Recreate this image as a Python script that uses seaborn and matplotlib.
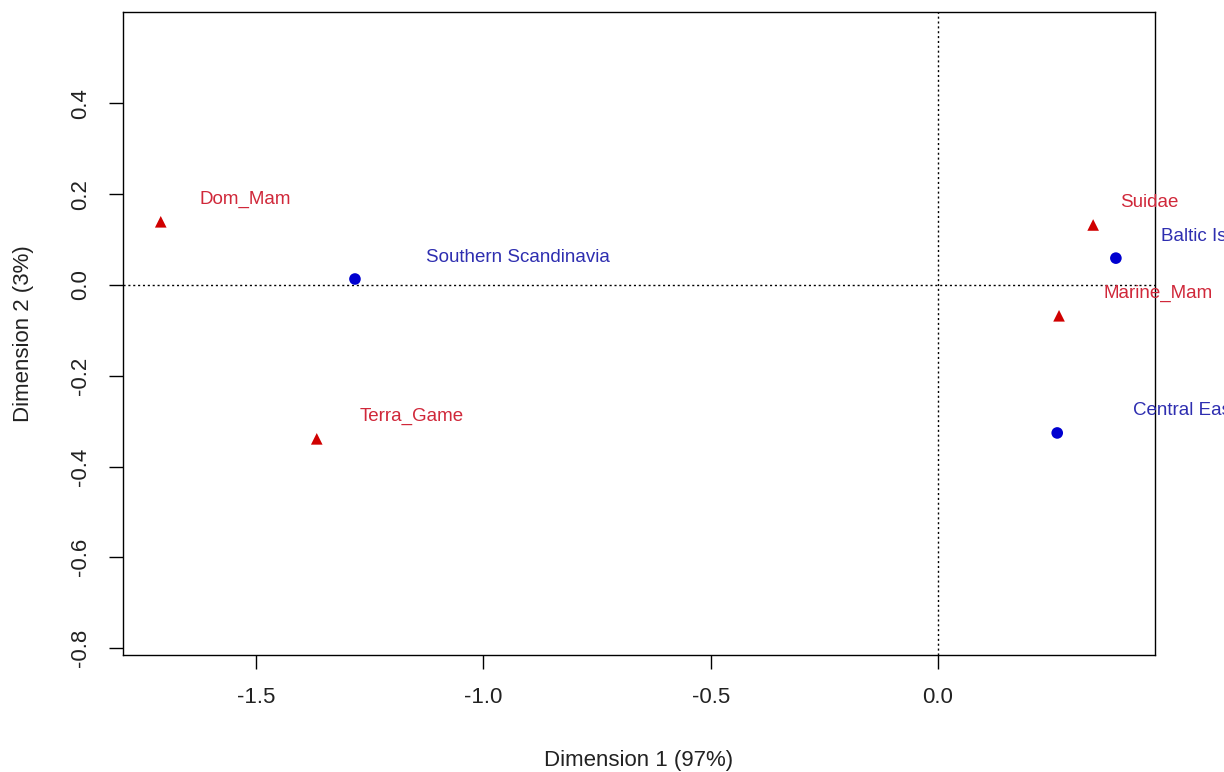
import matplotlib
matplotlib.use("Agg")
import matplotlib.pyplot as plt
import matplotlib.transforms as mtransforms
import seaborn as sns
import pandas as pd

# Row points (regions) and column points (taxa)
row_labels = ["Southern Scandinavia", "Baltic Islands", "Central Eastern Europe"]
row_dim1 = [-1.282, 0.391, 0.262]
row_dim2 = [0.013, 0.059, -0.326]

col_labels = ["Dom_Mam", "Terra_Game", "Suidae", "Marine_Mam"]
col_dim1 = [-1.709, -1.366, 0.341, 0.266]
col_dim2 = [0.139, -0.339, 0.132, -0.068]

xticks = [-1.5, -1.0, -0.5, 0.0]
yticks = [-0.8, -0.6, -0.4, -0.2, 0.0, 0.2, 0.4]
xlabel = "Dimension 1 (97%)"
ylabel = "Dimension 2 (3%)"

df = pd.DataFrame({
    "dim1": row_dim1 + col_dim1,
    "dim2": row_dim2 + col_dim2,
    "label": row_labels + col_labels,
    "kind": ["row"] * len(row_labels) + ["col"] * len(col_labels),
})

sns.set_style("white")
plt.rcParams["font.family"] = ["Liberation Sans", "DejaVu Sans"]

BLUE_PT, RED_PT = "#0000D0", "#D00000"
BLUE_TX, RED_TX = "#2E2EB0", "#D0283A"

fig = plt.figure(figsize=(12.24, 7.72), dpi=100)
ax = fig.add_axes([123 / 1224, 1 - 655 / 772, (1155 - 123) / 1224, (655 - 12) / 772])

ax.axhline(0, color="black", lw=1.0, ls=(0, (1.5, 2)), zorder=1)
ax.axvline(0, color="black", lw=1.0, ls=(0, (1.5, 2)), zorder=1)

sns.scatterplot(data=df, x="dim1", y="dim2", hue="kind", style="kind",
                palette={"row": BLUE_PT, "col": RED_PT},
                markers={"row": "o", "col": "^"},
                s=70, edgecolor="none", legend=False, ax=ax, zorder=3)

ax.set_xlim(-1.792, 0.477)
ax.set_ylim(-0.815, 0.601)
ax.set_xticks(xticks)
ax.set_xticklabels([f"{v:.1f}" for v in xticks])
ax.set_yticks(yticks)
ax.set_yticklabels([f"{v:.1f}" for v in yticks], rotation=90, va="center")
ax.tick_params(axis="both", direction="out", length=10, width=1, color="black",
               labelsize=16, pad=13, bottom=True, left=True, labelcolor="#222222")
ax.set_xlabel(xlabel, fontsize=16, labelpad=30, color="#222222")
ax.set_ylabel(ylabel, fontsize=16, labelpad=26, color="#222222")
for sp in ax.spines.values():
    sp.set_color("black")
    sp.set_linewidth(1.0)

# labels: placed up-right of each point, offset scaled with label width (as in the original)
texts = []
for _, r in df.iterrows():
    col = BLUE_TX if r["kind"] == "row" else RED_TX
    t = ax.text(r["dim1"], r["dim2"], r["label"], color=col, fontsize=13.5,
                ha="left", va="center", clip_on=False, zorder=4)
    texts.append(t)
fig.canvas.draw()
renderer = fig.canvas.get_renderer()
for t in texts:
    w = t.get_window_extent(renderer).width
    dx = 6 + 0.356 * w
    t.set_transform(mtransforms.offset_copy(ax.transData, fig=fig, x=dx, y=22, units="dots"))

fig.savefig("out.png", dpi=100)
